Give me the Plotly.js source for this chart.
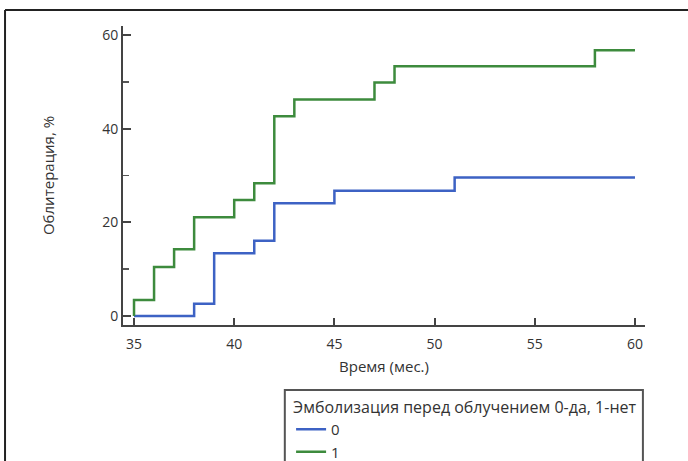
<!DOCTYPE html>
<html>
<head>
<meta charset="utf-8">
<script src="https://cdn.plot.ly/plotly-3.0.1.min.js"></script>
<style>html,body{margin:0;padding:0;background:#fff;}#chart{width:688px;height:461px;}</style>
</head>
<body>
<div id="chart"></div>
<script>
// Data (step curves)
const times0 = [35, 38, 39, 41, 42, 45, 51, 60];
const values0 = [0, 2.6, 13.4, 16.1, 24.1, 26.8, 29.6, 29.6];
const times1 = [35, 35, 36, 37, 38, 40, 41, 42, 43, 47, 48, 58, 60];
const values1 = [0, 3.4, 10.5, 14.3, 21.1, 24.8, 28.4, 42.7, 46.3, 49.9, 53.4, 56.8, 56.8];
const seriesNames = ['0', '1'];
const xTicks = [35, 40, 45, 50, 55, 60];
const yTicks = [0, 20, 40, 60];
const legendTitle = 'Эмболизация перед облучением 0-да, 1-нет';
const xTitle = 'Время (мес.)';
const yTitle = 'Облитерация, %';

const FONT = '"Open Sans", "Noto Sans", sans-serif';
const traces = [
  {x: times0, y: values0, name: seriesNames[0], type: 'scatter', mode: 'lines',
   line: {shape: 'hv', color: '#3d62c4', width: 2.5}},
  {x: times1, y: values1, name: seriesNames[1], type: 'scatter', mode: 'lines',
   line: {shape: 'hv', color: '#3d8b3d', width: 2.5}}
];
const layout = {
  width: 688, height: 461,
  margin: {l: 123, r: 43, t: 26, b: 136, autoexpand: false},
  paper_bgcolor: '#fff', plot_bgcolor: '#fff',
  font: {family: FONT, size: 14, color: '#333'},
  showlegend: true,
  xaxis: {
    range: [34.45, 60.5], tickvals: xTicks, ticktext: xTicks.map(String),
    showgrid: false, zeroline: false, showline: true, linecolor: '#444', linewidth: 2,
    ticks: 'inside', ticklen: 7, tickwidth: 2, tickcolor: '#444',
    ticklabelstandoff: 5,
    tickfont: {family: FONT, size: 14, color: '#333'},
    title: {text: xTitle, font: {family: FONT, size: 15, color: '#333'}, standoff: 10},
    automargin: false, fixedrange: true
  },
  yaxis: {
    range: [-1.92, 62.0], tickvals: yTicks, ticktext: yTicks.map(String),
    showgrid: false, zeroline: false, showline: true, linecolor: '#444', linewidth: 2,
    ticks: 'inside', ticklen: 8, tickwidth: 2, tickcolor: '#444',
    minor: {tickvals: [10, 30, 50], ticks: 'inside', ticklen: 6, tickwidth: 1.5, tickcolor: '#555'},
    tickfont: {family: FONT, size: 14, color: '#333'},
    title: {text: yTitle, font: {family: FONT, size: 15, color: '#333'}, standoff: 44},
    automargin: false, fixedrange: true
  },
  legend: {
    x: 0.322, y: -0.225, xanchor: 'left', yanchor: 'top',
    bgcolor: 'rgba(0,0,0,0)', borderwidth: 0,
    title: {text: legendTitle, font: {family: FONT, size: 16, color: '#333'}},
    font: {family: FONT, size: 15, color: '#333'},
    itemwidth: 30, tracegroupgap: 0
  },
  shapes: [
    {type: 'line', xref: 'paper', yref: 'paper', x0: -0.226, x1: 1.2, y0: 1.0535, y1: 1.0535,
     line: {color: '#222', width: 2}},
    {type: 'line', xref: 'paper', yref: 'paper', x0: -0.226, x1: -0.226, y0: 1.0535, y1: -0.5,
     line: {color: '#222', width: 2}},
    {type: 'rect', xref: 'paper', yref: 'paper', x0: 0.310, x1: 0.996, y0: -0.217, y1: -0.5,
     line: {color: '#555', width: 2}}
  ]
};
Plotly.newPlot('chart', traces, layout, {displayModeBar: false, staticPlot: true});
</script>
</body>
</html>
